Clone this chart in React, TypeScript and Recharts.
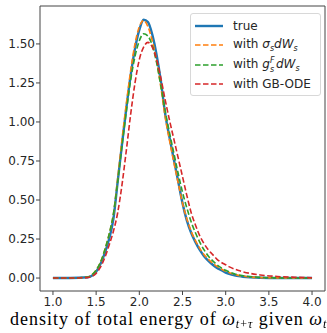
import React from "react";
import { LineChart, Line, XAxis, YAxis, ReferenceArea } from "recharts";

// x grid of the density curves
const xs = [
  1.0, 1.2, 1.4, 1.45, 1.5, 1.55, 1.6, 1.65, 1.7, 1.75, 1.8, 1.85, 1.9, 1.95, 2.0, 2.05, 2.1,
  2.15, 2.2, 2.25, 2.3, 2.35, 2.4, 2.45, 2.5, 2.55, 2.6, 2.65, 2.7, 2.75, 2.8, 2.85, 2.9,
  2.95, 3.0, 3.05, 3.1, 3.15, 3.2, 3.4, 3.6, 3.8, 4.0,
];

const trueVals = [
  0, 0, 0.005, 0.015, 0.04, 0.09, 0.16, 0.25, 0.38, 0.62, 0.86, 1.09, 1.3, 1.47, 1.59, 1.655, 1.64,
  1.56, 1.43, 1.26, 1.05, 0.9, 0.76, 0.62, 0.48, 0.37, 0.29, 0.23, 0.18, 0.14, 0.11, 0.085, 0.065,
  0.05, 0.035, 0.025, 0.018, 0.012, 0.008, 0.002, 0.0005, 0, 0,
];

const sigmaVals = [
  0, 0, 0.006, 0.02, 0.05, 0.1, 0.18, 0.28, 0.41, 0.64, 0.89, 1.12, 1.33, 1.5, 1.61, 1.65, 1.61,
  1.52, 1.39, 1.22, 1.03, 0.88, 0.74, 0.61, 0.48, 0.38, 0.3, 0.24, 0.19, 0.15, 0.12, 0.095, 0.075,
  0.058, 0.044, 0.033, 0.024, 0.017, 0.012, 0.003, 0.001, 0, 0,
];

const gVals = [
  0, 0, 0.006, 0.02, 0.05, 0.1, 0.18, 0.28, 0.41, 0.62, 0.85, 1.07, 1.27, 1.42, 1.52, 1.565, 1.55,
  1.49, 1.38, 1.23, 1.07, 0.93, 0.8, 0.67, 0.55, 0.45, 0.36, 0.29, 0.23, 0.18, 0.14, 0.11, 0.085,
  0.065, 0.05, 0.038, 0.028, 0.02, 0.015, 0.004, 0.001, 0, 0,
];

const odeVals = [
  0, 0, 0.003, 0.01, 0.03, 0.07, 0.13, 0.21, 0.3, 0.42, 0.6, 0.82, 1.05, 1.25, 1.4, 1.48, 1.51,
  1.48, 1.4, 1.28, 1.14, 1.01, 0.89, 0.77, 0.65, 0.53, 0.42, 0.34, 0.27, 0.22, 0.18, 0.15, 0.12,
  0.1, 0.085, 0.07, 0.058, 0.048, 0.04, 0.02, 0.01, 0.005, 0.002,
];

const xTicks = [1.0, 1.5, 2.0, 2.5, 3.0, 3.5, 4.0];
const yTicks = [0, 0.25, 0.5, 0.75, 1.0, 1.25, 1.5];

const data = xs.map((x, i) => ({
  x,
  truth: trueVals[i],
  sigma: sigmaVals[i],
  g: gVals[i],
  ode: odeVals[i],
}));

const X_DOMAIN: [number, number] = [0.85, 4.15];
const Y_DOMAIN: [number, number] = [-0.083, 1.743];

const tickStyle = { fontFamily: "DejaVu Sans", fontSize: 12, fill: "#262626" };

const subStyle: React.CSSProperties = { fontSize: 8, position: "relative", top: 3 };

function LegendBox() {
  const row = (color: string, dashed: boolean, label: React.ReactNode) => (
    <div style={{ display: "flex", alignItems: "center", height: 19.5 }}>
      <svg width={30} height={6} style={{ marginRight: 9 }}>
        <line
          x1={1}
          y1={3}
          x2={29}
          y2={3}
          stroke={color}
          strokeWidth={dashed ? 1.6 : 2.4}
          strokeDasharray={dashed ? "5.5 2.5" : undefined}
        />
      </svg>
      <span style={{ whiteSpace: "nowrap" }}>{label}</span>
    </div>
  );
  return (
    <div
      style={{
        position: "absolute",
        left: 190,
        top: 13,
        width: 131,
        height: 83,
        border: "1px solid #d8d8d8",
        borderRadius: 3,
        background: "rgba(255,255,255,0.85)",
        boxSizing: "border-box",
        padding: "2px 0 0 3px",
        fontFamily: "DejaVu Sans",
        fontSize: 12,
        lineHeight: "14px",
        color: "#262626",
      }}
    >
      {row("#1f77b4", false, "true")}
      {row(
        "#ff7f0e",
        true,
        <>
          with <i>σ</i>
          <i style={subStyle}>s</i>
          <i>dW</i>
          <i style={subStyle}>s</i>
        </>
      )}
      {row(
        "#2ca02c",
        true,
        <>
          with <i>g</i>
          <span style={{ display: "inline-block", position: "relative", width: 6, height: 10 }}>
            <i style={{ position: "absolute", left: 0, top: -4, fontSize: 8 }}>F</i>
            <i style={{ position: "absolute", left: 0, top: 5, fontSize: 8 }}>s</i>
          </span>
          <i>dW</i>
          <i style={subStyle}>s</i>
        </>
      )}
      {row("#d62728", true, "with GB-ODE")}
    </div>
  );
}

export default function App() {
  return (
    <div style={{ position: "fixed", left: 0, top: 0, width: 327, height: 333, background: "#fff" }}>
      <LineChart width={327} height={333} data={data} margin={{ top: 6, right: 2, bottom: 22, left: 0 }}>
        <XAxis
          dataKey="x"
          type="number"
          domain={X_DOMAIN}
          ticks={xTicks}
          tickFormatter={(v: number) => v.toFixed(1)}
          tick={tickStyle}
          tickSize={4}
          tickMargin={2}
          height={20}
          axisLine={false}
          tickLine={{ stroke: "#444" }}
          allowDataOverflow
        />
        <YAxis
          type="number"
          domain={Y_DOMAIN}
          ticks={yTicks}
          tickFormatter={(v: number) => v.toFixed(2)}
          tick={tickStyle}
          tickSize={4}
          tickMargin={1}
          width={40}
          axisLine={false}
          tickLine={{ stroke: "#444" }}
          allowDataOverflow
        />
        <ReferenceArea
          x1={X_DOMAIN[0]}
          x2={X_DOMAIN[1]}
          y1={Y_DOMAIN[0]}
          y2={Y_DOMAIN[1]}
          fill="none"
          stroke="#444"
          strokeWidth={1}
          ifOverflow="visible"
        />
        <Line dataKey="truth" type="monotone" stroke="#1f77b4" strokeWidth={2.4} dot={false} isAnimationActive={false} />
        <Line dataKey="sigma" type="monotone" stroke="#ff7f0e" strokeWidth={1.6} strokeDasharray="5.5 2.5" dot={false} isAnimationActive={false} />
        <Line dataKey="g" type="monotone" stroke="#2ca02c" strokeWidth={1.6} strokeDasharray="5.5 2.5" dot={false} isAnimationActive={false} />
        <Line dataKey="ode" type="monotone" stroke="#d62728" strokeWidth={1.6} strokeDasharray="5.5 2.5" dot={false} isAnimationActive={false} />
      </LineChart>
      <LegendBox />
      <div
        style={{
          position: "absolute",
          left: 10,
          top: 309,
          fontFamily: "Liberation Serif",
          fontSize: 18,
          lineHeight: "20px",
          letterSpacing: 1,
          color: "#000",
          whiteSpace: "nowrap",
        }}
      >
        density of total energy of <i>ω</i>
        <span style={{ fontSize: 12, position: "relative", top: 3 }}>
          <i>t</i>+<i>τ</i>
        </span>{" "}
        given <i>ω</i>
        <i style={{ fontSize: 12, position: "relative", top: 3 }}>t</i>
      </div>
    </div>
  );
}
